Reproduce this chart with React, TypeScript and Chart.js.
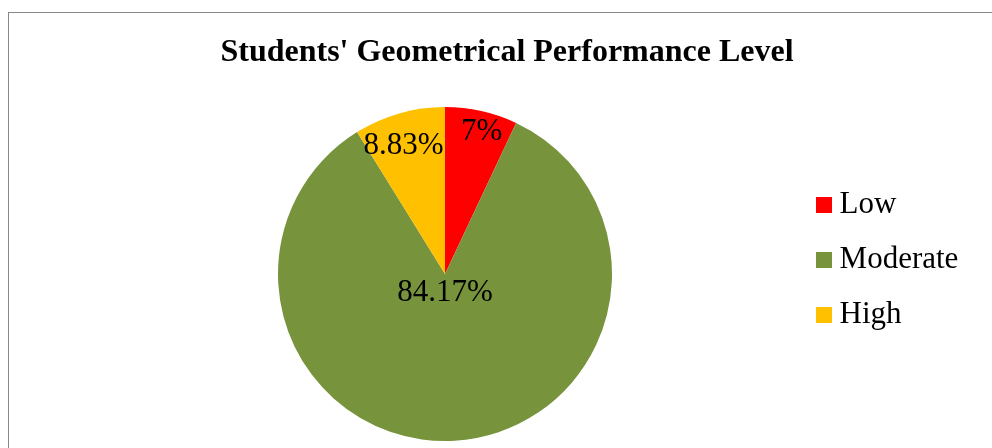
import React, { useEffect, useRef } from "react";
import { Chart, registerables } from "chart.js";

Chart.register(...registerables);

const TITLE = "Students' Geometrical Performance Level";
const categories = ["Low", "Moderate", "High"];
const percentages = [7, 84.17, 8.83];
const sliceColors = ["#FF0000", "#77933C", "#FFC000"];
// placement of each percentage label: fraction along the slice's angle, fraction of the radius
const labelAngleFraction = [0.565, 0.511, 0.443];
const labelRadiusFactor = [0.892, 0.1, 0.817];
const LABEL_DY = 2;

const FONT = '"Liberation Serif", "Times New Roman", Times, serif';

function makeSquare(color: string) {
  const c = document.createElement("canvas");
  c.width = 16;
  c.height = 16;
  const g = c.getContext("2d")!;
  g.fillStyle = color;
  g.fillRect(0, 0, 16, 16);
  return c;
}

const pieLabels = {
  id: "pieLabels",
  afterDatasetsDraw(chart: any) {
    const meta = chart.getDatasetMeta(0);
    const ctx = chart.ctx;
    ctx.save();
    ctx.font = `31px ${FONT}`;
    ctx.fillStyle = "#000";
    ctx.textAlign = "center";
    ctx.textBaseline = "middle";
    meta.data.forEach((el: any, i: number) => {
      const p = el.getProps(["x", "y", "startAngle", "endAngle", "outerRadius"], true);
      const a = p.startAngle + (p.endAngle - p.startAngle) * labelAngleFraction[i];
      const r = p.outerRadius * labelRadiusFactor[i];
      ctx.fillText(`${percentages[i]}%`, p.x + Math.cos(a) * r, p.y + Math.sin(a) * r + LABEL_DY);
    });
    ctx.restore();
  },
};

// let the legend text run past the legend box instead of being clipped
const legendUnclip = {
  id: "legendUnclip",
  afterLayout(chart: any) {
    const lg = chart.legend;
    if (lg) {
      lg.right = chart.width;
      lg.width = lg.right - lg.left;
    }
  },
};

export default function App() {
  const ref = useRef<HTMLCanvasElement | null>(null);

  useEffect(() => {
    if (!ref.current) return;
    const squares = sliceColors.map(makeSquare);
    const chart = new Chart(ref.current, {
      type: "pie",
      data: {
        labels: categories,
        datasets: [
          {
            data: percentages,
            backgroundColor: sliceColors,
            borderWidth: 0,
          },
        ],
      },
      options: {
        responsive: false,
        animation: false,
        devicePixelRatio: 1,
        layout: { padding: { left: 90.5, right: 68.5, top: 0, bottom: 7 } },
        plugins: {
          tooltip: { enabled: false },
          title: {
            display: true,
            text: TITLE,
            color: "#000",
            font: { family: FONT, size: 32, weight: "bold" },
            padding: { top: 33.8, bottom: 34.8 },
          },
          legend: {
            position: "right",
            align: "center",
            maxWidth: 124,
            title: {
              display: true,
              text: "",
              font: { size: 12 },
              padding: { top: 30, bottom: 34.4 },
            },
            labels: {
              color: "#000",
              font: { family: FONT, size: 31 },
              padding: 23.6,
              usePointStyle: true,
              pointStyleWidth: 1,
              generateLabels: () =>
                categories.map((t, i) => ({
                  text: t,
                  fillStyle: sliceColors[i],
                  strokeStyle: sliceColors[i],
                  lineWidth: 0,
                  pointStyle: squares[i],
                  hidden: false,
                  index: i,
                  fontColor: "#000",
                })),
            },
          },
        },
      } as any,
      plugins: [pieLabels, legendUnclip],
    });
    return () => chart.destroy();
  }, []);

  return (
    <div
      style={{
        position: "fixed",
        left: 0,
        top: 0,
        width: 992,
        height: 448,
        overflow: "hidden",
        background: "#fff",
      }}
    >
      <div
        style={{
          position: "absolute",
          left: 8,
          top: 12,
          width: 1100,
          height: 600,
          border: "1px solid #878787",
        }}
      />
      <canvas
        ref={ref}
        width={992}
        height={448}
        style={{ position: "absolute", left: 0, top: 0, width: 992, height: 448 }}
      />
    </div>
  );
}
